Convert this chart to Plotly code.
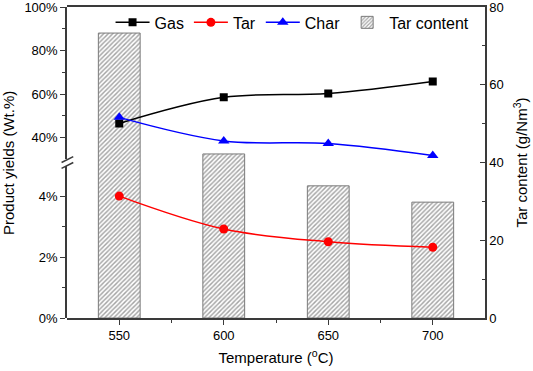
import plotly.graph_objects as go

# ---- data ----
temperature = [550, 600, 650, 700]
gas_yield = [46.5, 58.5, 60.3, 65.8]       # wt.% (upper segment)
char_yield = [49.3, 38.5, 37.3, 31.8]      # wt.% (upper segment)
tar_yield = [4.0, 2.92, 2.50, 2.32]        # wt.% (lower segment)
tar_content = [73.3, 42.2, 34.0, 29.8]     # g/Nm3 (right axis)

upper_ticks = [40, 60, 80, 100]
lower_ticks = [0, 2, 4]
right_ticks = [0, 20, 40, 60, 80]

FONT = "Arial, Liberation Sans, sans-serif"
AX = "#3a3a3a"

fig = go.Figure()

fig.add_trace(go.Bar(
    x=temperature, y=tar_content, name="Tar content", width=20,
    xaxis="x", yaxis="y",
    marker=dict(color="white", line=dict(color="#7a7a7a", width=1),
                pattern=dict(shape="/", fgcolor="#4a4a4a", bgcolor="white",
                             size=3.2, solidity=0.45)),
    legendrank=4,
))
fig.add_trace(go.Scatter(
    x=temperature, y=gas_yield, name="Gas", mode="lines+markers",
    xaxis="x", yaxis="y3", line=dict(color="black", width=1.5, shape="spline"),
    marker=dict(symbol="square", size=8, color="black"), legendrank=1,
))
fig.add_trace(go.Scatter(
    x=temperature, y=tar_yield, name="Tar", mode="lines+markers",
    xaxis="x", yaxis="y2", line=dict(color="red", width=1.5, shape="spline"),
    marker=dict(symbol="circle", size=9, color="red"), legendrank=2,
))
fig.add_trace(go.Scatter(
    x=temperature, y=char_yield, name="Char", mode="lines+markers",
    xaxis="x", yaxis="y3", line=dict(color="blue", width=1.5, shape="spline"),
    marker=dict(symbol="triangle-up", size=10, color="blue"), legendrank=3,
))

tickfont = dict(family=FONT, size=13, color="black")
titlefont = dict(family=FONT, size=15, color="black")

common = dict(tickwidth=1.2, tickcolor=AX, showline=True, linecolor=AX,
              linewidth=1.5, showgrid=False, zeroline=False, tickfont=tickfont,
              ticklabeloverflow="allow")

fig.update_layout(
    width=533, height=371,
    margin=dict(l=67, r=48, t=7, b=53, autoexpand=False),
    paper_bgcolor="white", plot_bgcolor="rgba(0,0,0,0)",
    font=dict(family=FONT, color="black"),
    showlegend=True,
    legend=dict(orientation="h", x=0.975, xanchor="right", y=1.005, yanchor="top",
                font=dict(family=FONT, size=16, color="black"),
                bgcolor="rgba(0,0,0,0)", itemwidth=34, traceorder="normal"),
    xaxis=dict(range=[525, 725], domain=[0, 1], anchor="y",
               tickvals=temperature, ticks="outside", ticklen=5, mirror=True,
               minor=dict(tickvals=[575, 625, 675], ticks="outside", ticklen=3,
                          tickcolor=AX, tickwidth=1.2),
               title=dict(text="Temperature (<sup>o</sup>C)", font=titlefont, standoff=10),
               **common),
    yaxis=dict(range=[0, 80], domain=[0, 1], anchor="x", side="right",
               tickvals=right_ticks, ticktext=[str(v) for v in right_ticks],
               ticks="inside", ticklen=5,
               minor=dict(tickvals=[10, 30, 50, 70], ticks="inside", ticklen=3,
                          tickcolor=AX, tickwidth=1.2),
               title=dict(text="Tar content (g/Nm<sup>3</sup>)", font=titlefont, standoff=14),
               **common),
    yaxis2=dict(range=[0, 5], domain=[0, 0.49], anchor="x", side="left",
                tickvals=lower_ticks, ticktext=[f"{v}%" for v in lower_ticks],
                ticks="outside", ticklen=5,
                minor=dict(tickvals=[1, 3], ticks="outside", ticklen=3,
                           tickcolor=AX, tickwidth=1.2),
                **common),
    yaxis3=dict(range=[30, 100], domain=[0.51, 1], anchor="x", side="left",
                tickvals=upper_ticks, ticktext=[f"{v}%" for v in upper_ticks],
                ticks="outside", ticklen=5,
                minor=dict(tickvals=[50, 70, 90], ticks="outside", ticklen=3,
                           tickcolor=AX, tickwidth=1.2),
                **common),
)

# left axis title spanning both segments
fig.add_annotation(text="Product yields (Wt.%)", xref="paper", yref="paper",
                   x=-0.14, y=0.5, textangle=-90, showarrow=False,
                   xanchor="center", yanchor="middle", font=titlefont)

# axis-break marks
for y0 in (0.481, 0.5):
    fig.add_shape(type="line", xref="paper", yref="paper",
                  x0=-0.013, x1=0.015, y0=y0, y1=y0 + 0.019,
                  line=dict(color=AX, width=1.5))

fig.write_html("out.html", config={"displayModeBar": False},
               post_script="document.body.style.margin='0';document.body.style.padding='0';")
